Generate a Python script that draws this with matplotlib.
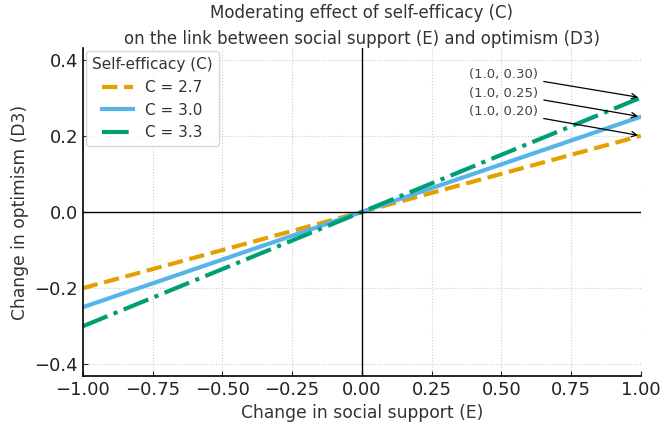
import numpy as np
import matplotlib.pyplot as plt

# data
x_vals = [-1.0, 1.0]
c_labels = ['C = 2.7', 'C = 3.0', 'C = 3.3']
slopes = [0.20, 0.25, 0.30]
colors = ['#E69F00', '#56B4E9', '#009E73']
styles = ['--', '-', '-.']
note_texts = ['(1.0, 0.30)', '(1.0, 0.25)', '(1.0, 0.20)']
note_targets = [0.30, 0.25, 0.20]
note_y = [0.36, 0.312, 0.264]

fig = plt.figure(figsize=(6.62, 4.30), dpi=100)
ax = fig.add_axes([0.125, 0.126, 0.843, 0.762])

x = np.array(x_vals)
for lab, b, col, ls in zip(c_labels, slopes, colors, styles):
    ax.plot(x, b * x, ls, color=col, lw=3, label=lab)

ax.axhline(0, color='black', lw=1)
ax.axvline(0, color='black', lw=1)

for txt, ty, yy in zip(note_texts, note_targets, note_y):
    ax.annotate(txt, xy=(1.0, ty), xytext=(0.385, yy), fontsize=9.5,
                color='#444444', va='center',
                arrowprops=dict(arrowstyle='->', color='black', lw=0.9))

ax.set_xlim(-1.0, 1.0)
ax.set_ylim(-0.43, 0.43)
ax.set_xticks(np.arange(-1.0, 1.01, 0.25))
ax.set_yticks([-0.4, -0.2, 0.0, 0.2, 0.4])
ax.grid(True, linestyle=':', color='#cccccc', lw=0.8)
ax.spines['top'].set_visible(False)
ax.spines['right'].set_visible(False)
for s in ['left', 'bottom']:
    ax.spines[s].set_linewidth(1.2)
ax.tick_params(direction='in', labelsize=13, colors='#222222')
ax.set_xlabel('Change in social support (E)', fontsize=12.3, color='#333333')
ax.set_ylabel('Change in optimism (D3)', fontsize=12.3, color='#333333')
ax.set_title('Moderating effect of self-efficacy (C)\non the link between social support (E) and optimism (D3)',
             fontsize=12, color='#333333', pad=3, linespacing=1.55)
leg = ax.legend(title='Self-efficacy (C)', loc='upper left', fontsize=11, title_fontsize=11,
                borderaxespad=0.2)
plt.setp(leg.get_texts(), color='#333333')
leg.get_title().set_color('#333333')

fig.savefig('out.png', dpi=100)
